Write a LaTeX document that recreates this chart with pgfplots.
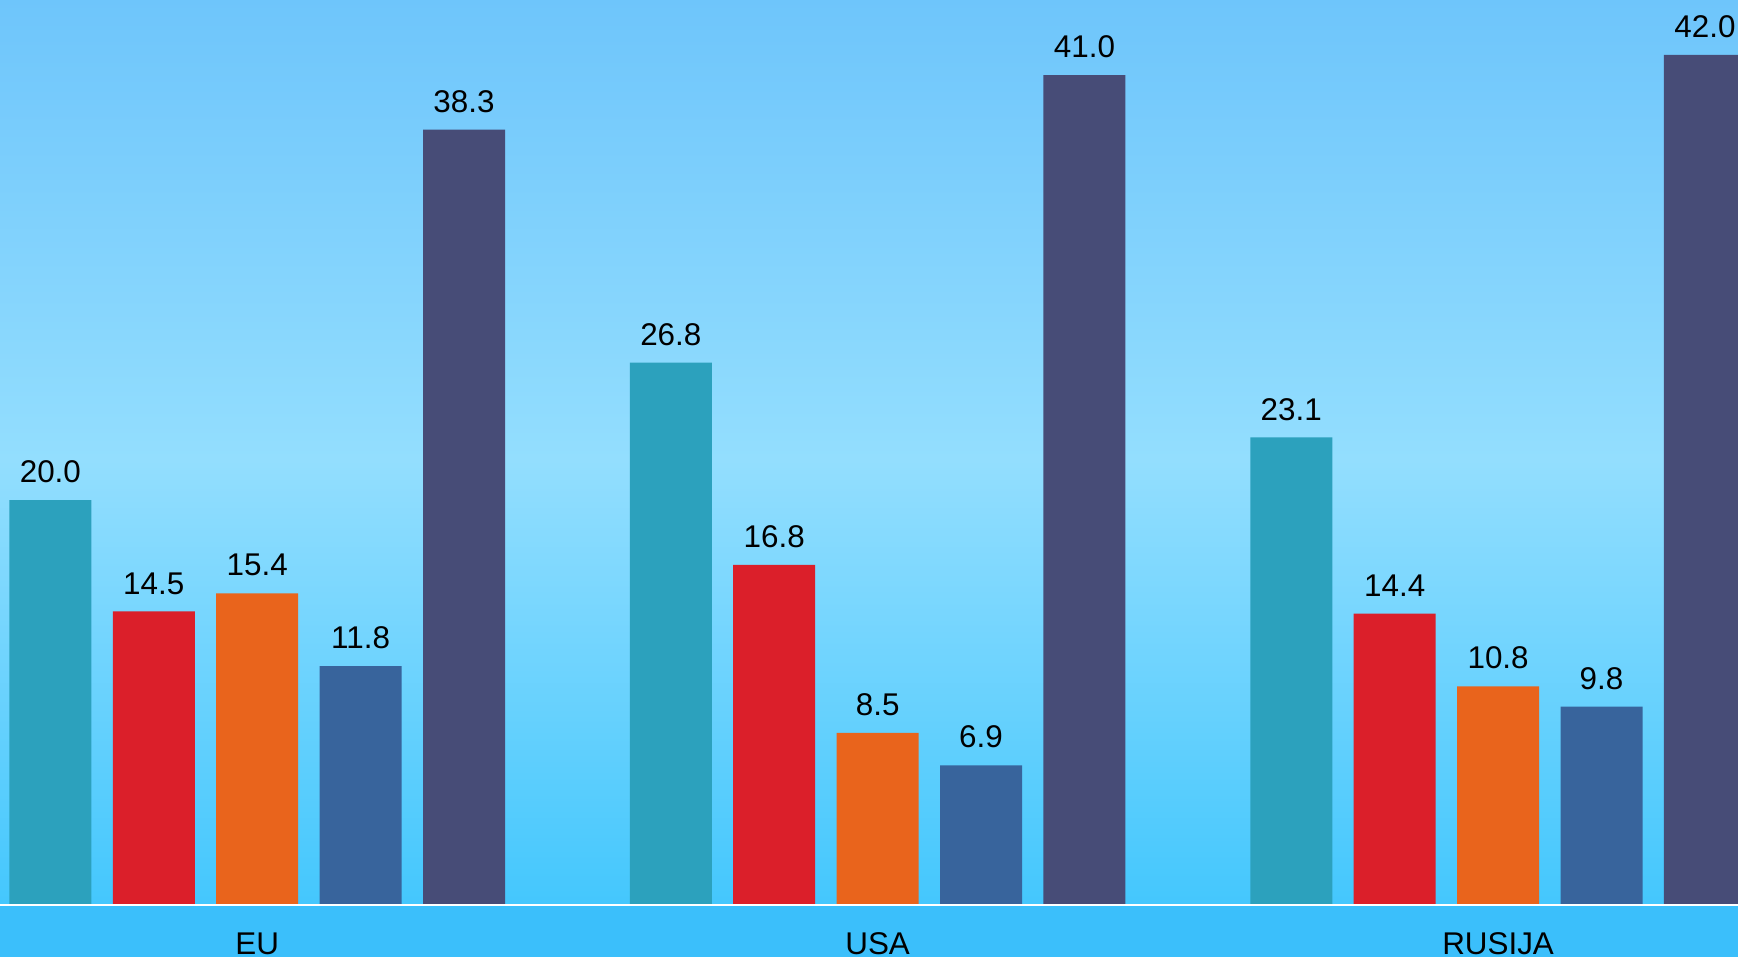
\documentclass[border=0pt]{standalone}
\usepackage{pgfplots}
\pgfplotsset{compat=1.18}
\usepackage{fontspec}
\setmainfont{Liberation Sans}
\definecolor{cTeal}{HTML}{2CA1BD}
\definecolor{cRed}{HTML}{DB1F2A}
\definecolor{cOrange}{HTML}{E9641C}
\definecolor{cBlue}{HTML}{38649C}
\definecolor{cDark}{HTML}{474C77}
\definecolor{bgTop}{HTML}{6EC5FB}
\definecolor{bgMid}{HTML}{93DEFE}
\definecolor{bgLow}{HTML}{44C7FD}
\definecolor{strip}{HTML}{3BBFFB}
\begin{document}
\begin{tikzpicture}
\begin{axis}[
  scale only axis,
  width=869pt, height=478.5pt,
  xmin=-2.487, xmax=14.32,
  ymin=-2.57, ymax=44.71,
  axis lines=none,
  xtick=\empty, ytick=\empty,
  ybar, bar width=0.793, bar shift=0pt,
  clip=true,
  nodes near coords={\pgfmathprintnumber[fixed,fixed zerofill,precision=1,assume math mode=true]{\pgfplotspointmeta}},
  every node near coord/.append style={font=\fontsize{15.7pt}{18pt}\selectfont, anchor=base, yshift=8.7pt, inner sep=0pt, text=black},
]
% background
\fill[bottom color=bgMid, top color=bgTop] (axis cs:-3,22) rectangle (axis cs:15,44.8);
\fill[bottom color=bgLow, top color=bgMid] (axis cs:-3,0) rectangle (axis cs:15,22.01);
\fill[strip] (axis cs:-3,-2.8) rectangle (axis cs:15,0);
\addplot[fill=cTeal, draw=none] coordinates {(-2,20.0) (4,26.8) (10,23.1)};
\addplot[fill=cRed, draw=none] coordinates {(-1,14.5) (5,16.8) (11,14.4)};
\addplot[fill=cOrange, draw=none] coordinates {(0,15.4) (6,8.5) (12,10.8)};
\addplot[fill=cBlue, draw=none] coordinates {(1,11.8) (7,6.9) (13,9.8)};
\addplot[fill=cDark, draw=none] coordinates {(2,38.3) (8,41.0) (14,42.0)};
\draw[white, line width=1pt] (axis cs:-3,0) -- (axis cs:15,0);
\node[anchor=base, font=\fontsize{15.7pt}{18pt}\selectfont, inner sep=0pt] at (axis cs:0,-2.45) {EU};
\node[anchor=base, font=\fontsize{15.7pt}{18pt}\selectfont, inner sep=0pt] at (axis cs:6,-2.45) {USA};
\node[anchor=base, font=\fontsize{15.7pt}{18pt}\selectfont, inner sep=0pt] at (axis cs:12,-2.45) {RUSIJA};
\end{axis}
\end{tikzpicture}
\end{document}
